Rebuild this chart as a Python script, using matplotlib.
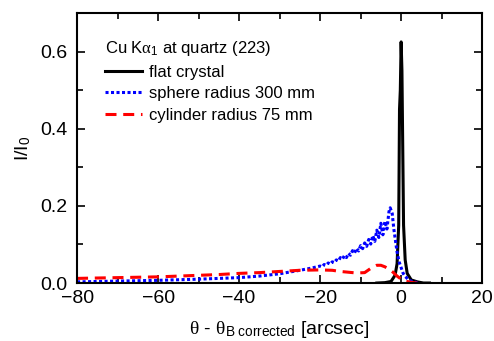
import numpy as np
import matplotlib
matplotlib.use("Agg")
import matplotlib.pyplot as plt
from matplotlib.ticker import MultipleLocator

# flat crystal
flat_x = [-6, -4, -2.5, -1.5, -1.0, -0.6, -0.4, -0.2, 0.0, 0.2, 0.4, 0.6, 1.0, 1.5, 2.5, 4, 5.5, 7]
flat_y = [0.0, 0.001, 0.004, 0.02, 0.05, 0.15, 0.45, 0.5, 0.625, 0.55, 0.35, 0.15, 0.06, 0.025, 0.008, 0.003, 0.0, 0.0]

# sphere radius 300 mm
sphere_x = [-80, -70, -60, -50, -45, -40, -35, -30, -25, -22,
            -20, -19.5, -19, -18.5, -18, -17.5, -17, -16.5, -16, -15.5,
            -15, -14.5, -14, -13.5, -13, -12.5, -12, -11.5, -11, -10.5,
            -10, -9.5, -9, -8.5, -8, -7.5, -7, -6.5, -6, -5.5,
            -5, -4.5, -4, -3.5, -3, -2.7, -2.2, -1.8, -1.4, -1.0,
            -0.5, 0.0, 0.5, 1.0, 1.5, 2.0, 3.0, 4.0]
sphere_y = [0.003, 0.005, 0.007, 0.010, 0.012, 0.014, 0.018, 0.024, 0.033, 0.039,
            0.044, 0.042, 0.048, 0.046, 0.052, 0.049, 0.055, 0.053, 0.060, 0.057,
            0.066, 0.062, 0.071, 0.066, 0.077, 0.072, 0.084, 0.078, 0.090, 0.083,
            0.097, 0.089, 0.104, 0.095, 0.113, 0.101, 0.123, 0.108, 0.137, 0.118,
            0.155, 0.125, 0.160, 0.140, 0.185, 0.195, 0.180, 0.140, 0.110, 0.080,
            0.055, 0.040, 0.025, 0.017, 0.012, 0.007, 0.003, 0.001]

# cylinder radius 75 mm
cyl_x = [-80, -70, -60, -50, -45, -40, -35, -30, -25, -20, -17, -15, -13, -11, -9,
         -7.5, -6, -5, -4, -3, -2, -1, 0, 1, 2, 3, 4]
cyl_y = [0.012, 0.014, 0.016, 0.020, 0.022, 0.025, 0.027, 0.030, 0.033, 0.034, 0.033,
         0.030, 0.028, 0.026, 0.027, 0.038, 0.046, 0.046, 0.042, 0.036, 0.028, 0.018,
         0.010, 0.005, 0.003, 0.001, 0.0]

plt.rcParams['font.family'] = ['Liberation Sans', 'DejaVu Sans']
plt.rcParams['mathtext.fontset'] = 'custom'
plt.rcParams['mathtext.rm'] = 'Liberation Sans'
plt.rcParams['mathtext.it'] = 'Liberation Serif'

fig = plt.figure(figsize=(4.94, 3.41), dpi=100)
ax = fig.add_axes([0.156, 0.170, 0.820, 0.792])

ax.plot(flat_x, flat_y, color="black", lw=2.2, label="flat crystal")
ax.plot(sphere_x, sphere_y, color="#0000ff", lw=2.2, linestyle=(0, (1, 0.8)),
        label="sphere radius 300 mm")
ax.plot(cyl_x, cyl_y, color="#ff0000", lw=2.2, linestyle=(0, (3.6, 2.2)),
        label="cylinder radius 75 mm")

ax.set_xlim(-80, 20)
ax.set_ylim(0, 0.7)
ax.xaxis.set_major_locator(MultipleLocator(20))
ax.xaxis.set_minor_locator(MultipleLocator(10))
ax.set_yticks([0.0, 0.2, 0.4, 0.6])
ax.yaxis.set_minor_locator(MultipleLocator(0.1))
ax.tick_params(which="both", direction="in", top=True, right=True,
               labelsize=14, width=1.2)
ax.tick_params(which="major", length=6)
ax.tick_params(which="minor", length=4)
ax.tick_params(axis="x", pad=5)
ax.tick_params(axis="y", pad=7)
for s in ax.spines.values():
    s.set_linewidth(1.5)

ax.set_xlabel(r"$\theta$ - $\theta_{\mathrm{B\ corrected}}$ [arcsec]", fontsize=14,
              labelpad=9)
ax.set_ylabel(r"I/I$_0$", fontsize=14, labelpad=5)

leg = ax.legend(loc="upper left", bbox_to_anchor=(0.07, 0.905), frameon=False,
                title=r"Cu K$\alpha_1$ at quartz (223)", fontsize=12,
                title_fontsize=12, handlelength=2.2, handletextpad=0.4,
                labelspacing=0.4, borderaxespad=0, borderpad=0,
                alignment="left")
leg._legend_box.sep = 5

fig.savefig("out.png", dpi=100)
